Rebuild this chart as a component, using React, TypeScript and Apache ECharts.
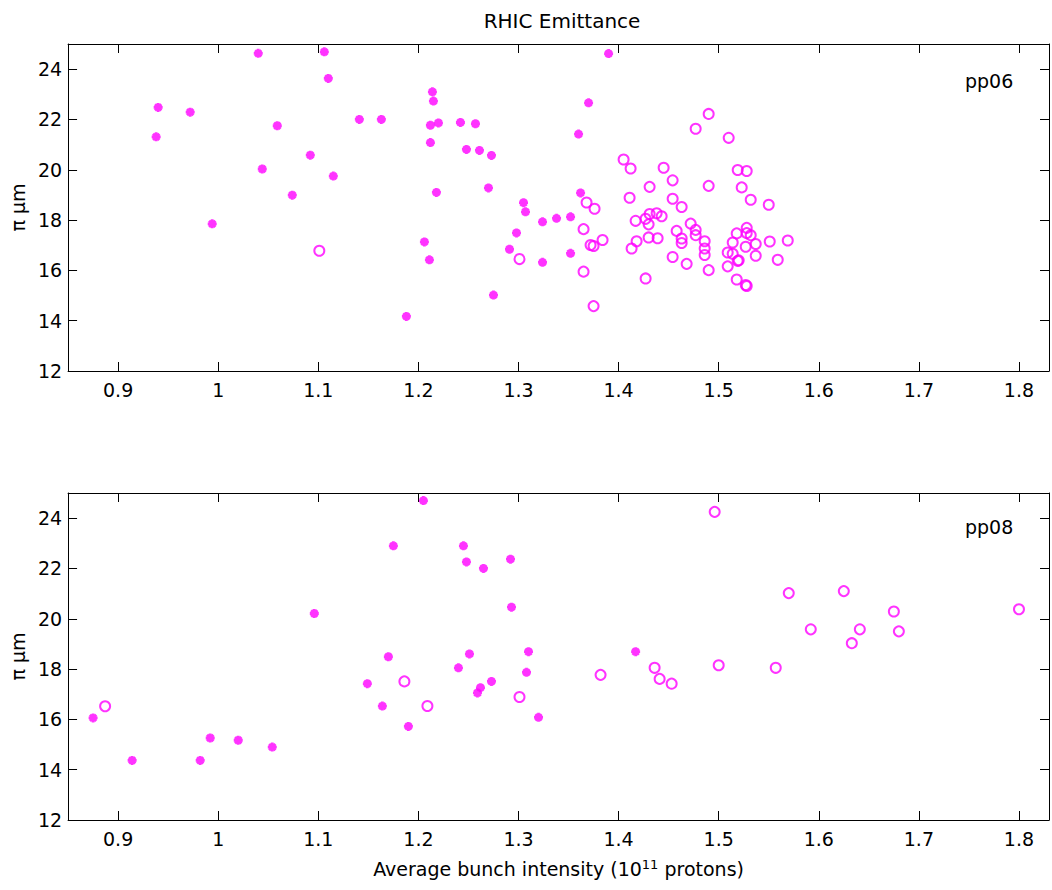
import React, { useEffect, useRef } from "react";
import * as echarts from "echarts";

const xTicks = [0.9, 1.0, 1.1, 1.2, 1.3, 1.4, 1.5, 1.6, 1.7, 1.8];
const yTicks = [12, 14, 16, 18, 20, 22, 24];

// Run 2006 (pp06)
const pp06Filled: number[][] = [
  [0.940, 22.48], [0.972, 22.29], [0.938, 21.31], [1.040, 24.63], [1.106, 24.69],
  [1.110, 23.63], [1.059, 21.75], [1.141, 22.0], [1.163, 22.0], [1.092, 20.58],
  [1.044, 20.03], [1.115, 19.75], [1.074, 18.99], [0.994, 17.85],
  [1.214, 23.10], [1.215, 22.73], [1.212, 21.77], [1.220, 21.86], [1.242, 21.88],
  [1.257, 21.83], [1.212, 21.08], [1.248, 20.81], [1.261, 20.77], [1.273, 20.57],
  [1.218, 19.10], [1.270, 19.28], [1.206, 17.13], [1.211, 16.42], [1.188, 14.17],
  [1.275, 15.02], [1.305, 18.69], [1.307, 18.33], [1.298, 17.49], [1.291, 16.84],
  [1.324, 17.93], [1.338, 18.07], [1.352, 18.13], [1.324, 16.32], [1.352, 16.68],
  [1.362, 19.08], [1.360, 21.42], [1.370, 22.66], [1.390, 24.62],
];
const pp06Open: number[][] = [
  [1.101, 16.78], [1.301, 16.45], [1.368, 18.70], [1.376, 18.45], [1.365, 17.64],
  [1.372, 17.01], [1.375, 16.97], [1.384, 17.21], [1.365, 15.95], [1.375, 14.58],
  [1.405, 20.41], [1.412, 20.05], [1.411, 18.89], [1.417, 17.97], [1.418, 17.16],
  [1.413, 16.87], [1.427, 18.05], [1.431, 18.24], [1.430, 17.83], [1.431, 19.32],
  [1.430, 17.31], [1.439, 17.28], [1.438, 18.27], [1.443, 18.15], [1.427, 15.68],
  [1.445, 20.08], [1.454, 19.58], [1.454, 18.85], [1.463, 18.52], [1.454, 16.53],
  [1.468, 16.26], [1.458, 17.57], [1.463, 17.27], [1.463, 17.09], [1.472, 17.86],
  [1.477, 17.61], [1.477, 17.40], [1.477, 21.63], [1.490, 22.22], [1.490, 19.36],
  [1.486, 17.16], [1.486, 16.87], [1.486, 16.61], [1.490, 16.01], [1.510, 21.27],
  [1.519, 19.99], [1.528, 19.95], [1.523, 19.30], [1.532, 18.81], [1.550, 18.61],
  [1.528, 17.69], [1.518, 17.47], [1.528, 17.48], [1.532, 17.40], [1.514, 17.11],
  [1.537, 17.05], [1.527, 16.94], [1.551, 17.15], [1.569, 17.19], [1.509, 16.71],
  [1.514, 16.66], [1.519, 16.38], [1.520, 16.40], [1.537, 16.58], [1.559, 16.42],
  [1.509, 16.16], [1.518, 15.64], [1.527, 15.42], [1.528, 15.38],
];

// Run 2008 (pp08)
const pp08Filled: number[][] = [
  [0.875, 16.06], [0.914, 14.37], [0.982, 14.37], [0.992, 15.26], [1.020, 15.17],
  [1.054, 14.90], [1.096, 20.21], [1.149, 17.42], [1.164, 16.53], [1.170, 18.49],
  [1.205, 24.70], [1.175, 22.90], [1.245, 22.90], [1.248, 22.26], [1.265, 22.0],
  [1.292, 22.37], [1.293, 20.46], [1.190, 15.72], [1.251, 18.60], [1.240, 18.05],
  [1.273, 17.51], [1.262, 17.26], [1.259, 17.05], [1.310, 18.69], [1.308, 17.87],
  [1.320, 16.08], [1.417, 18.69],
];
const pp08Open: number[][] = [
  [0.887, 16.52], [1.186, 17.51], [1.209, 16.53], [1.301, 16.89], [1.382, 17.77],
  [1.436, 18.05], [1.441, 17.61], [1.453, 17.42], [1.496, 24.25], [1.500, 18.15],
  [1.557, 18.05], [1.570, 21.02], [1.592, 19.58], [1.625, 21.10], [1.633, 19.03],
  [1.641, 19.58], [1.675, 20.29], [1.680, 19.50], [1.800, 20.38],
];

const panelLabels = ["pp06", "pp08"];
const titleText = "RHIC Emittance";
const yName = "π µm";

const MAGENTA = "#ff00ff";
const FONT = "'DejaVu Sans', 'Liberation Sans', Arial, sans-serif";
const STAR = "path://M5,0L5,10M0,5L10,5M1.5,1.5L8.5,8.5M1.5,8.5L8.5,1.5";
const FS = 19;

export default function App() {
  const ref = useRef<HTMLDivElement>(null);
  useEffect(() => {
    const chart = echarts.init(ref.current!, null, { renderer: "svg" });
    const fmt = (v: number) => String(+Number(v).toFixed(1));
    const grids = [
      { left: 65, top: 44, width: 984, height: 327 },
      { left: 65, top: 493, width: 984, height: 327 },
    ];
    const xAxes: any[] = [];
    const yAxes: any[] = [];
    grids.forEach((_, gi) => {
      const base = {
        type: "value",
        gridIndex: gi,
        min: 0.85,
        max: 1.83,
        splitLine: { show: false },
        axisLine: { show: true, lineStyle: { color: "#000", width: 1 } },
        axisTick: { show: true, inside: true, length: 9, customValues: xTicks, lineStyle: { color: "#000" } },
      };
      xAxes.push({
        ...base,
        position: "bottom",
        axisLabel: {
          show: true, customValues: xTicks, formatter: fmt, margin: 9,
          color: "#000", fontSize: FS, fontFamily: FONT,
        },
        ...(gi === 1
          ? {
              name: "Average bunch intensity (10{sup|11} protons)",
              nameLocation: "middle",
              nameGap: 38,
              nameTextStyle: {
                color: "#000", fontSize: FS, fontFamily: FONT,
                rich: { sup: { fontSize: 13, verticalAlign: "top", color: "#000", fontFamily: FONT, padding: [0, 0, 9, 0] } },
              },
            }
          : {}),
      });
      xAxes.push({ ...base, position: "top", axisLabel: { show: false } });
      const ybase = {
        type: "value",
        gridIndex: gi,
        min: 12,
        max: 25,
        splitLine: { show: false },
        axisLine: { show: true, lineStyle: { color: "#000", width: 1 } },
        axisTick: { show: true, inside: true, length: 9, customValues: yTicks, lineStyle: { color: "#000" } },
      };
      yAxes.push({
        ...ybase,
        position: "left",
        axisLabel: { show: true, customValues: yTicks, margin: 6, color: "#000", fontSize: FS, fontFamily: FONT },
        name: yName,
        nameLocation: "middle",
        nameGap: 36,
        nameTextStyle: { color: "#000", fontSize: FS, fontFamily: FONT },
      });
      yAxes.push({ ...ybase, position: "right", axisLabel: { show: false } });
    });

    const filledStyle = { color: MAGENTA, borderColor: MAGENTA, borderWidth: 2.8 };
    const openStyle = { color: "rgba(0,0,0,0)", borderColor: MAGENTA, borderWidth: 2 };

    chart.setOption({
      animation: false,
      backgroundColor: "#fff",
      title: {
        text: titleText,
        left: 557,
        textAlign: "center",
        top: 6,
        textStyle: { color: "#000", fontSize: 20, fontWeight: "normal", fontFamily: FONT },
      },
      grid: grids,
      xAxis: xAxes,
      yAxis: yAxes,
      graphic: panelLabels.map((t, i) => ({
        type: "text",
        left: 965,
        top: i === 0 ? 71 : 517,
        style: { text: t, fontSize: FS, fill: "#000", fontFamily: FONT },
      })),
      series: [
        { type: "scatter", xAxisIndex: 0, yAxisIndex: 0, data: pp06Filled, symbol: STAR, symbolSize: 9, itemStyle: filledStyle },
        { type: "scatter", xAxisIndex: 0, yAxisIndex: 0, data: pp06Open, symbol: "circle", symbolSize: 10, itemStyle: openStyle },
        { type: "scatter", xAxisIndex: 2, yAxisIndex: 2, data: pp08Filled, symbol: STAR, symbolSize: 9, itemStyle: filledStyle },
        { type: "scatter", xAxisIndex: 2, yAxisIndex: 2, data: pp08Open, symbol: "circle", symbolSize: 10, itemStyle: openStyle },
      ],
    });
    return () => chart.dispose();
  }, []);
  return (
    <div
      ref={ref}
      style={{ position: "fixed", left: 0, top: 0, width: 1052, height: 890, background: "#fff" }}
    />
  );
}
